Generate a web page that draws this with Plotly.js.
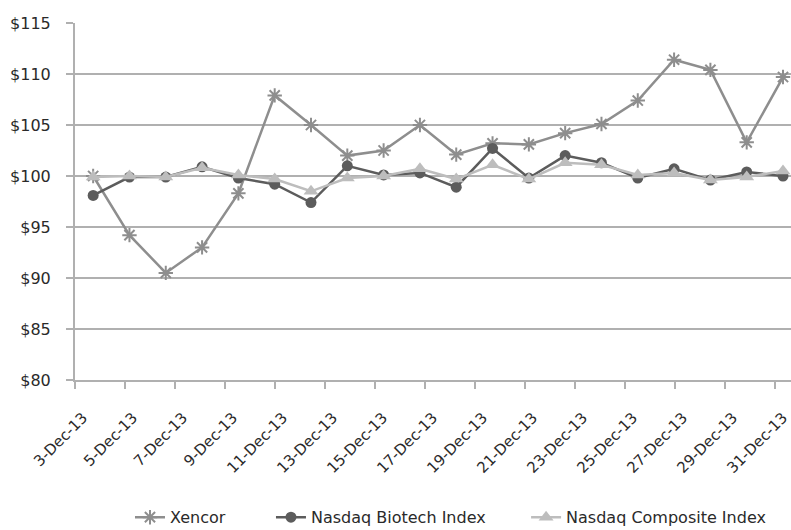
<!DOCTYPE html>
<html>
<head>
<meta charset="utf-8">
<script src="https://cdn.plot.ly/plotly-3.0.1.min.js"></script>
<style>html,body{margin:0;padding:0;background:#fff;overflow:hidden}#chart{width:791px;height:530px}</style>
</head>
<body>
<div id="chart"></div>
<script>
// Trading-day index (20 trading days, Dec 3 - Dec 31, 2013)
const tradingDays = ['3-Dec','4-Dec','5-Dec','6-Dec','9-Dec','10-Dec','11-Dec','12-Dec','13-Dec','16-Dec',
  '17-Dec','18-Dec','19-Dec','20-Dec','23-Dec','24-Dec','26-Dec','27-Dec','30-Dec','31-Dec'];
const xencor = [100.0, 94.2, 90.5, 93.0, 98.3, 107.9, 105.0, 102.0, 102.5, 105.0,
  102.1, 103.2, 103.1, 104.2, 105.1, 107.4, 111.4, 110.4, 103.3, 109.7];
const biotech = [98.1, 99.9, 99.9, 100.9, 99.8, 99.2, 97.4, 101.0, 100.1, 100.3,
  98.9, 102.7, 99.8, 102.0, 101.3, 99.8, 100.7, 99.6, 100.4, 100.0];
const composite = [99.9, 100.0, 99.9, 100.8, 100.1, 99.7, 98.5, 99.8, 100.0, 100.7,
  99.7, 101.1, 99.7, 101.3, 101.1, 100.1, 100.3, 99.6, 99.9, 100.5];
// Date-axis tick labels
const tickDays = [3, 5, 7, 9, 11, 13, 15, 17, 19, 21, 23, 25, 27, 29, 31];
const tickLabels = ['3-Dec-13','5-Dec-13','7-Dec-13','9-Dec-13','11-Dec-13','13-Dec-13','15-Dec-13',
  '17-Dec-13','19-Dec-13','21-Dec-13','23-Dec-13','25-Dec-13','27-Dec-13','29-Dec-13','31-Dec-13'];
const yTicks = [80, 85, 90, 95, 100, 105, 110, 115];

const idx = tradingDays.map((d, i) => i);
const FONT = 'DejaVu Sans, Liberation Sans, Arial, sans-serif';
const legFont = {family: FONT, size: 16, color: '#2a2a2a'};

const traces = [
  {x: idx, y: xencor, name: 'Xencor', type: 'scatter', mode: 'lines+markers', legend: 'legend',
   line: {color: '#8e8e8e', width: 2.5},
   marker: {symbol: 'asterisk-open', size: 12, color: '#8e8e8e', line: {color: '#8e8e8e', width: 2}}},
  {x: idx, y: biotech, name: 'Nasdaq Biotech Index', type: 'scatter', mode: 'lines+markers', legend: 'legend2',
   line: {color: '#5c5c5c', width: 2.5},
   marker: {symbol: 'circle', size: 11, color: '#5c5c5c'}},
  {x: idx, y: composite, name: 'Nasdaq Composite Index', type: 'scatter', mode: 'lines+markers', legend: 'legend3',
   line: {color: '#bdbdbd', width: 2.5},
   marker: {symbol: 'triangle-up', size: 13, color: '#bdbdbd'}},
  {x: [tickDays[0], tickDays[tickDays.length - 1]], y: [null, null], xaxis: 'x2', yaxis: 'y',
   type: 'scatter', mode: 'lines', showlegend: false, hoverinfo: 'skip'}
];

const legBase = {orientation: 'h', xanchor: 'left', yref: 'container', y: 0.024, yanchor: 'middle',
  font: legFont, bgcolor: 'rgba(0,0,0,0)'};

const layout = {
  width: 791, height: 530,
  margin: {l: 75, r: 0, t: 23, b: 150, autoexpand: false},
  paper_bgcolor: '#fff', plot_bgcolor: '#fff',
  font: {family: FONT, size: 15, color: '#2a2a2a'},
  showlegend: true,
  legend: Object.assign({}, legBase, {x: 0.0768}),
  legend2: Object.assign({}, legBase, {x: 0.2737}),
  legend3: Object.assign({}, legBase, {x: 0.630}),
  xaxis: {range: [-0.5, 19.22], showticklabels: false, ticks: '', showgrid: false,
    zeroline: false, showline: false, fixedrange: true},
  xaxis2: {overlaying: 'x', anchor: 'y', side: 'bottom', range: [3, 31.64],
    tickmode: 'array', tickvals: tickDays, ticktext: tickLabels, tickangle: -45,
    ticks: 'outside', ticklen: 7, tickwidth: 2, tickcolor: '#b0b0b0',
    ticklabelshift: 8, ticklabelstandoff: 14, ticklabeloverflow: 'allow',
    showgrid: false, zeroline: false, showline: true, linecolor: '#b0b0b0', linewidth: 2,
    tickfont: {family: FONT, size: 15, color: '#2a2a2a'}},
  yaxis: {range: [80, 115], tickmode: 'array', tickvals: yTicks,
    ticktext: yTicks.map(v => '$' + v), ticks: 'outside', ticklen: 7, tickwidth: 2,
    tickcolor: '#b0b0b0', showgrid: true, gridcolor: '#b0b0b0', gridwidth: 2,
    showline: true, linecolor: '#b0b0b0', linewidth: 2, zeroline: false,
    ticklabelstandoff: 12,
    tickfont: {family: FONT, size: 16, color: '#2a2a2a'}}
};

Plotly.newPlot('chart', traces, layout, {displayModeBar: false, staticPlot: true});
</script>
</body>
</html>
